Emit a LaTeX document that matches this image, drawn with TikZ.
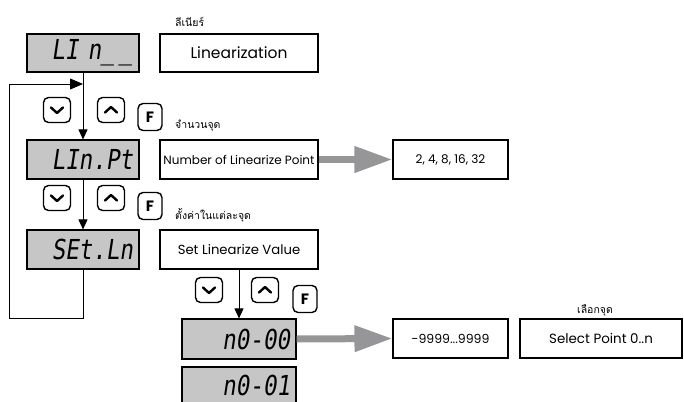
\documentclass[tikz,border=0pt]{standalone}
\usepackage{fontspec}
\setmainfont{Poppins}
\newfontfamily\thai[Script=Thai]{Loma}
\newfontfamily\segfont{DejaVu Sans Mono}[FakeSlant=0.15, FakeStretch=0.82]
\usetikzlibrary{arrows.meta}
\definecolor{dispgray}{RGB}{198,198,198}
\definecolor{arrgray}{RGB}{150,150,152}
\tikzset{
  box/.style={draw, line width=1.1pt, rectangle, inner sep=0pt, minimum height=38pt},
  disp/.style={box, fill=dispgray, text width=100pt, align=right, inner xsep=6pt, minimum width=112pt, font=\segfont\fontsize{27.5pt}{29pt}\selectfont},
  lbl/.style={box, minimum width=158pt, font=\fontsize{15.5pt}{17pt}\selectfont},
  btn/.style={draw, line width=1.4pt, rounded corners=5pt, minimum width=27pt, minimum height=25pt, inner sep=0pt},
  fbtn/.style={btn, minimum width=24pt, minimum height=27pt, font=\bfseries\fontsize{15pt}{17pt}\selectfont},
  thlbl/.style={inner sep=0pt, anchor=west, font=\thai\fontsize{10.5pt}{13pt}\selectfont},
  conn/.style={line width=0.8pt, -{Triangle[length=10pt,width=9pt]}},
  bigarr/.style={line width=7pt, draw=arrgray, -{Triangle[length=38pt,width=25pt]}},
  chev/.style={line width=2.4pt, line cap=round, line join=round},
}
\newcommand{\btndown}[2]{%
  \node[btn] (#1) at #2 {};
  \draw[chev] ([xshift=-6pt,yshift=2.5pt]#1.center) -- ([yshift=-3pt]#1.center) -- ([xshift=6pt,yshift=2.5pt]#1.center);}
\newcommand{\btnup}[2]{%
  \node[btn] (#1) at #2 {};
  \draw[chev] ([xshift=-6pt,yshift=-2.5pt]#1.center) -- ([yshift=3pt]#1.center) -- ([xshift=6pt,yshift=-2.5pt]#1.center);}
\begin{document}
\begin{tikzpicture}[x=1pt,y=-1pt]
\useasboundingbox (0,0) rectangle (684,401);
\clip (0,0) rectangle (684,401);

% displays
\node[disp] (lin)   at (83,53)    {LI n\_\,\_};
\node[disp, minimum height=39pt] (linpt) at (83,159.5) {LIn.Pt};
\node[disp, minimum height=39pt] (setln) at (83,249.5) {SEt.Ln};
\node[disp, minimum height=40pt, minimum width=114pt, text width=102pt] (n000) at (239,339) {n0-00};
\node[disp, minimum height=36pt, minimum width=114pt, text width=102pt] (n001) at (239,385) {n0-01};

% labels
\node[lbl] (linz) at (239,53) {Linearization};
\node[lbl, minimum height=39pt, font=\fontsize{12pt}{14pt}\selectfont] (nlp) at (239,159.5) {Number of Linearize Point};
\node[lbl, minimum height=39pt, font=\fontsize{13.2pt}{15pt}\selectfont] (slv) at (239,249.5) {Set Linearize Value};
\node[box, minimum width=115pt, minimum height=39pt, font=\fontsize{12pt}{14pt}\selectfont] (pts) at (450.5,159.5) {2, 4, 8, 16, 32};
\node[box, minimum width=115pt, minimum height=39pt, font=\fontsize{12.5pt}{14pt}\selectfont] (rng) at (450.5,338.5) {-9999.{}.{}.9999};
\node[box, minimum width=162pt, minimum height=39pt, font=\fontsize{13.4pt}{15pt}\selectfont] (sel) at (601,338.5) {Select Point 0.{}.n};

% thai labels
\node[thlbl] (th1) at (175,22) {ลีเนียร์};
\node[thlbl] (th2) at (175,126) {จำนวนจุด};
\node[thlbl] (th3) at (175,215) {ตั้งค่าในแต่ละจุด};
\node[thlbl, anchor=center] (th4) at (595,310) {เลือกจุด};

% buttons
\btndown{d1}{(57,110)}
\btnup{u1}{(111,110)}
\node[fbtn] (f1) at (150,117) {F};
\btndown{d2}{(57,198)}
\btnup{u2}{(111,198)}
\node[fbtn] (f2) at (150,206) {F};
\btndown{d3}{(209,290)}
\btnup{u3}{(265,290)}
\node[fbtn] (f3) at (305,299) {F};

% connectors
\draw[conn] (lin.south) -- (linpt.north);
\draw[conn] (linpt.south) -- (setln.north);
\draw[conn] (slv.south) -- (n000.north);
\coordinate (lb) at (9,318);
\coordinate (lt) at (9,84);
\coordinate (jn) at (83,84);
\draw[line width=0.8pt, -{Triangle[length=13pt,width=11pt]}] (setln.south) |- (lb) -- (lt) -- (jn);

\draw[bigarr] (nlp.east) -- (pts.west);
\draw[bigarr] (n000.east) -- (rng.west);
\end{tikzpicture}
\end{document}
